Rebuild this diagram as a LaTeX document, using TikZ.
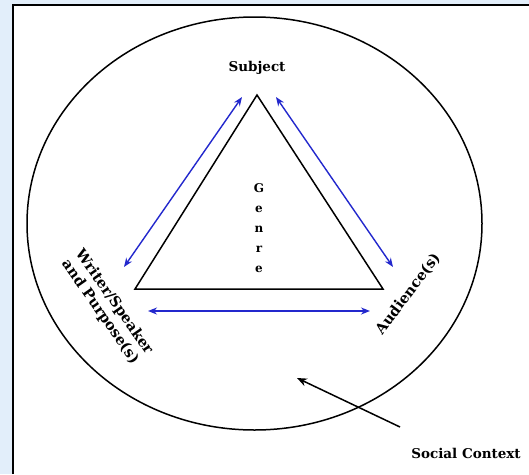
\documentclass[tikz,border=0pt]{standalone}
\usepackage{fontspec}
\setmainfont{DejaVu Serif}
\usetikzlibrary{arrows.meta}
\definecolor{bgblue}{RGB}{226,238,250}
\definecolor{arrblue}{RGB}{35,40,205}
\tikzset{
  lbl/.style={font=\bfseries\fontsize{13.5}{15}\selectfont, inner sep=0pt, align=center},
  rlbl/.style={font=\bfseries\fontsize{14.5}{17}\selectfont, inner sep=0pt, align=center},
  blu/.style={draw=arrblue, line width=1.4pt, {Stealth[length=9pt,width=7pt]}-{Stealth[length=9pt,width=7pt]}},
  blk/.style={draw=black, line width=1.5pt},
}
\begin{document}
\begin{tikzpicture}[x=1pt,y=-1pt]
\useasboundingbox (0,0) rectangle (529,474);
\fill[bgblue] (0,0) rectangle (529,474);
\fill[white] (13,5) rectangle (529,474);
\draw[black, line width=2.8pt] (13,474) -- (13,5) -- (529,5);
% circle
\draw[blk] (254.5,223.5) ellipse [x radius=227.5, y radius=206.5];
% triangle
\coordinate (top) at (257,95);
\coordinate (bl) at (135,289);
\coordinate (br) at (383,289);
\draw[blk, line join=miter] (top) -- (bl) -- (br) -- cycle;
% labels
\node[lbl] (subj) at (257,68) {Subject};
\node[lbl, font=\bfseries\fontsize{12}{20}\selectfont] (genre) at (259,228) {G\\e\\n\\r\\e};
\node[rlbl, rotate=-55] (writer) at (107,307) {Writer/Speaker\\and Purpose(s)};
\node[rlbl, rotate=53] (aud) at (408,294) {Audience(s)};
\node[lbl] (soc) at (466,453) {Social Context};
% blue arrows
\coordinate (l1) at (124,267);
\coordinate (l2) at (242,97);
\coordinate (r1) at (276,97);
\coordinate (r2) at (393,267);
\coordinate (b1) at (148,311);
\coordinate (b2) at (370,311);
\draw[blu] (l1) -- (l2);
\draw[blu] (r1) -- (r2);
\draw[blu] (b1) -- (b2);
% social context arrow
\coordinate (sctail) at (400,427);
\coordinate (schead) at (297,378);
\draw[blk, -{Stealth[length=10pt,width=8pt]}] (sctail) -- (schead);
\end{tikzpicture}
\end{document}
